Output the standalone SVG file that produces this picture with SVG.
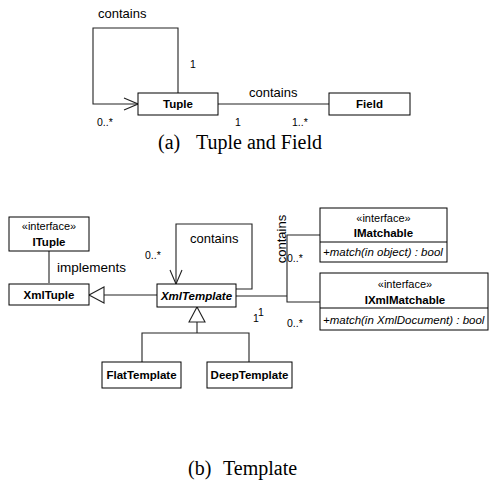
<svg xmlns="http://www.w3.org/2000/svg" width="490" height="485" viewBox="0 0 490 485">
  <style>
    .box { fill: #fff; stroke: #000; stroke-width: 1; }
    .ln { fill: none; stroke: #222; stroke-width: 1.1; }
    .name { font-family: "Liberation Sans", Arial, sans-serif; font-size: 11.5px; font-weight: bold; text-anchor: middle; fill: #000; }
    .ital { font-style: italic; }
    .stereo { font-family: "Liberation Sans", Arial, sans-serif; font-size: 11px; text-anchor: middle; fill: #000; }
    .op { font-family: "Liberation Sans", Arial, sans-serif; font-size: 11.5px; font-style: italic; fill: #000; }
    .lbl { font-family: "Liberation Sans", Arial, sans-serif; font-size: 13px; fill: #000; }
    .mult { font-family: "Liberation Sans", Arial, sans-serif; font-size: 10.5px; fill: #000; }
    .cap { font-family: "Liberation Serif", "Times New Roman", serif; font-size: 20px; fill: #000; }
  </style>
  <defs>
    <marker id="open" markerWidth="16" markerHeight="14" refX="15" refY="7" orient="auto" markerUnits="userSpaceOnUse">
      <path d="M1,1 L15,7 L1,13" fill="none" stroke="#222" stroke-width="1.1"/>
    </marker>
    <marker id="gen" markerWidth="18" markerHeight="20" refX="16" refY="10" orient="auto" markerUnits="userSpaceOnUse">
      <path d="M1,2 L16,10 L1,18 Z" fill="#fff" stroke="#222" stroke-width="1.1"/>
    </marker>
  </defs>

  <!-- (a) Tuple and Field -->
  <g id="connectors-a">
    <path class="ln" d="M178,94 V28 H93 V104 H138" marker-end="url(#open)"/>
    <line class="ln" x1="218" y1="104" x2="329" y2="104"/>
    <text class="lbl" x="98" y="18">contains</text>
    <text class="mult" x="190" y="68">1</text>
    <text class="lbl" x="249" y="97">contains</text>
    <text class="mult" x="97" y="126">0..*</text>
    <text class="mult" x="235" y="126">1</text>
    <text class="mult" x="292" y="126">1..*</text>
  </g>
  <g id="tuple">
    <rect class="box" x="138" y="93" width="80" height="22"/>
    <text class="name" x="178" y="108">Tuple</text>
  </g>
  <g id="field">
    <rect class="box" x="329" y="93" width="81" height="22"/>
    <text class="name" x="369.5" y="108">Field</text>
  </g>
  <text class="cap" x="158" y="149">(a)</text>
  <text class="cap" x="196" y="149">Tuple and Field</text>

  <!-- (b) Template -->
  <g id="connectors-b">
    <!-- ITuple implemented by XmlTuple -->
    <line class="ln" x1="49" y1="251" x2="49" y2="283"/>
    <text class="lbl" x="57" y="272" style="font-size:13.5px">implements</text>
    <!-- XmlTemplate generalises to XmlTuple -->
    <line class="ln" x1="157" y1="295" x2="89" y2="295" marker-end="url(#gen)"/>
    <!-- XmlTemplate self containment -->
    <path class="ln" d="M236,289 H252 V224 H176 V284" marker-end="url(#open)"/>
    <text class="lbl" x="190" y="243">contains</text>
    <text class="mult" x="145" y="259">0..*</text>
    <!-- containment of matchables -->
    <path class="ln" d="M236,296 H287"/>
    <path class="ln" d="M320,235 H287 V302 H320"/>
    <text class="lbl" transform="translate(286,239) rotate(-90)" text-anchor="middle">contains</text>
    <text class="mult" x="287" y="262">0..*</text>
    <text class="mult" x="287" y="327">0..*</text>
    <text class="mult" x="253" y="322">1</text>
    <text class="mult" x="258" y="316">1</text>
    <!-- subclasses of XmlTemplate -->
    <path class="ln" d="M142,362 V333 H249 V362"/>
    <line class="ln" x1="197" y1="333" x2="197" y2="307" marker-end="url(#gen)"/>
  </g>
  <g id="ituple">
    <rect class="box" x="9" y="217" width="80" height="34"/>
    <text class="stereo" x="49" y="230">«interface»</text>
    <text class="name" x="49" y="246">ITuple</text>
  </g>
  <g id="xmltuple">
    <rect class="box" x="9" y="284" width="80" height="21"/>
    <text class="name" x="49" y="299">XmlTuple</text>
  </g>
  <g id="xmltemplate">
    <rect class="box" x="157" y="284" width="79" height="23"/>
    <text class="name ital" x="196.5" y="300">XmlTemplate</text>
  </g>
  <g id="imatchable">
    <rect class="box" x="320" y="208" width="127" height="54"/>
    <line x1="320" y1="242" x2="447" y2="242" stroke="#000" stroke-width="1"/>
    <text class="stereo" x="383.5" y="222">«interface»</text>
    <text class="name" x="383.5" y="237">IMatchable</text>
    <text class="op" x="323" y="256">+match(in object) : bool</text>
  </g>
  <g id="ixmlmatchable">
    <rect class="box" x="320" y="273" width="168" height="57"/>
    <line x1="320" y1="308" x2="488" y2="308" stroke="#000" stroke-width="1"/>
    <text class="stereo" x="405" y="288">«interface»</text>
    <text class="name" x="405" y="304">IXmlMatchable</text>
    <text class="op" x="323" y="324">+match(in XmlDocument) : bool</text>
  </g>
  <g id="flattemplate">
    <rect class="box" x="102" y="362" width="79" height="26"/>
    <text class="name" x="141.5" y="379">FlatTemplate</text>
  </g>
  <g id="deeptemplate">
    <rect class="box" x="207" y="362" width="85" height="26"/>
    <text class="name" x="249.5" y="379">DeepTemplate</text>
  </g>
  <text class="cap" x="188" y="475">(b)</text>
  <text class="cap" x="223" y="475">Template</text>
</svg>
